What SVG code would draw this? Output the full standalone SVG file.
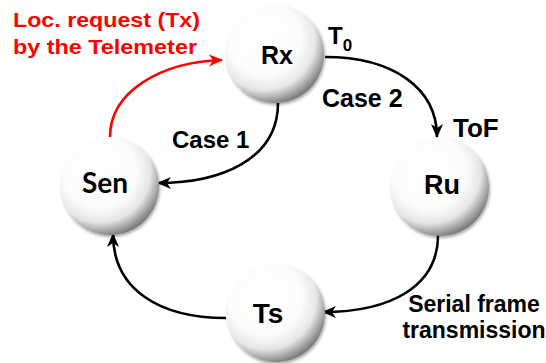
<svg xmlns="http://www.w3.org/2000/svg" width="546" height="363" viewBox="0 0 546 363">
<defs>
<radialGradient id="sph" cx="0.4" cy="0.36" r="0.68" fx="0.38" fy="0.33">
<stop offset="0" stop-color="#ffffff"/>
<stop offset="0.55" stop-color="#fcfcfc"/>
<stop offset="0.76" stop-color="#e6e6e6"/>
<stop offset="0.9" stop-color="#a0a0a0"/>
<stop offset="1" stop-color="#6e6e6e"/>
</radialGradient>
<filter id="sh" x="-20%" y="-20%" width="140%" height="140%">
<feGaussianBlur in="SourceAlpha" stdDeviation="1.5"/>
<feOffset dx="1" dy="2" result="b"/>
<feComponentTransfer><feFuncA type="linear" slope="0.35"/></feComponentTransfer>
<feMerge><feMergeNode/><feMergeNode in="SourceGraphic"/></feMerge>
</filter>
<marker id="ab" markerWidth="14" markerHeight="14" viewBox="0 0 14 14" refX="13" refY="7" orient="auto" markerUnits="userSpaceOnUse">
<path d="M0,1 L14,7 L0,13 L4,7 z" fill="#000"/>
</marker>
<marker id="ar" markerWidth="14" markerHeight="14" viewBox="0 0 14 14" refX="13" refY="7" orient="auto" markerUnits="userSpaceOnUse">
<path d="M0,1 L14,7 L0,13 L4,7 z" fill="#ff0000"/>
</marker>
</defs>
<style>
.node circle{fill:url(#sph);filter:url(#sh)}
.nl{font-family:"Liberation Sans",Arial,sans-serif;font-weight:bold;fill:#000;text-anchor:middle}
.lb{font-family:"Liberation Sans",Arial,sans-serif;font-weight:bold;fill:#000}
.red{font-family:"Liberation Sans",Arial,sans-serif;font-weight:bold;fill:#ff0000}
.c{fill:none;stroke:#000;stroke-width:2.6}
.cr{fill:none;stroke:#ff0000;stroke-width:2.6}
</style>
<g id="connectors">
<path class="cr" d="M110,137 C110,92 160,62 222,60" marker-end="url(#ar)"/>
<path class="c" d="M325,57 C393,57 437,88 437,137" marker-end="url(#ab)"/>
<path class="c" d="M278,103 C278,160 220,183 158,183" marker-end="url(#ab)"/>
<path class="c" d="M438,235 C438,287 390,312 323,312" marker-end="url(#ab)"/>
<path class="c" d="M226,318 C160,318 113,290 113,234" marker-end="url(#ab)"/>
</g>
<g id="node-rx" class="node">
<circle cx="275" cy="54" r="49"/>
<text class="nl" x="277" y="64" font-size="25">Rx</text>
</g>
<g id="node-sen" class="node">
<circle cx="110" cy="186" r="49"/>
<text x="105" y="193" font-size="28" font-family="Lato,'Open Sans',sans-serif" font-weight="bold" text-anchor="middle" fill="#000">Sen</text>
</g>
<g id="node-ru" class="node">
<circle cx="440" cy="187" r="49"/>
<text class="nl" x="442" y="194" font-size="27">Ru</text>
</g>
<g id="node-ts" class="node">
<circle cx="276" cy="313" r="49"/>
<text class="nl" x="268" y="323" font-size="28">Ts</text>
</g>
<g id="labels">
<text class="red" x="13" y="27" font-size="20" textLength="187" lengthAdjust="spacingAndGlyphs">Loc. request (Tx)</text>
<text class="red" x="13" y="54" font-size="20" textLength="184" lengthAdjust="spacingAndGlyphs">by the Telemeter</text>
<text class="lb" x="328" y="44" font-size="24">T<tspan font-size="17" dy="7">0</tspan></text>
<text class="lb" x="322" y="107" font-size="25">Case 2</text>
<text class="lb" x="453" y="137" font-size="26">ToF</text>
<text class="lb" x="172" y="148" font-size="24">Case 1</text>
<text class="lb" x="474" y="312" font-size="23" text-anchor="middle">Serial frame</text>
<text class="lb" x="474" y="338" font-size="23" text-anchor="middle">transmission</text>
</g>
</svg>
